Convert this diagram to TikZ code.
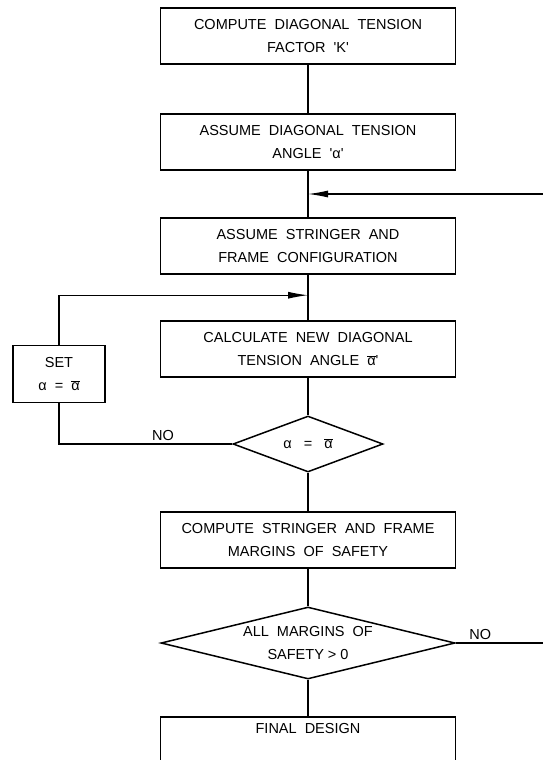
\documentclass[tikz,border=0pt]{standalone}
\usepackage{fontspec}
\setmainfont{Liberation Sans}[WordSpace=2]
\usepackage{tikz}
\usetikzlibrary{shapes.geometric,arrows.meta,positioning,calc}
\newcommand{\alphabar}{$\overline{\mbox{α}}$}
\newcommand{\tick}{\textquotesingle}

\begin{document}
\begin{tikzpicture}[x=1pt, y=-1pt,
    pbox/.style={rectangle, draw, line width=1.5pt,
                 minimum width=295pt, minimum height=56pt,
                 align=center, font=\fontsize{14.5}{23}\selectfont},
    test/.style={diamond, draw, line width=1.5pt, inner sep=0pt,
                 align=center, font=\fontsize{14.5}{23}\selectfont},
    link/.style={line width=1.1pt},
    arr/.style={link, -{Latex[length=20pt,width=7pt]}},
    lbl/.style={font=\fontsize{14.5}{17}\selectfont, inner sep=3pt}
  ]
    \useasboundingbox (0,0) rectangle (543,760);
    \node[pbox] (b1) at (308,36) {COMPUTE DIAGONAL TENSION\\FACTOR \tick K\tick};
    \node[pbox, below=48.5pt of b1] (b2) {ASSUME DIAGONAL TENSION\\ANGLE \tick α\tick};
    \node[pbox, below=46.5pt of b2] (b3) {ASSUME STRINGER AND\\FRAME CONFIGURATION};
    \node[pbox, below=45.5pt of b3] (b4) {CALCULATE NEW DIAGONAL\\TENSION ANGLE \alphabar\tick};
    \node[test, aspect=2.7, minimum width=150pt, minimum height=56pt,
          below=37.5pt of b4] (d1) {α\hspace{4pt} = \hspace{4pt}\alphabar};
    \node[pbox, below=38.5pt of d1] (b5) {COMPUTE STRINGER AND FRAME\\MARGINS OF SAFETY};
    \node[test, aspect=4, minimum width=294pt, minimum height=72pt,
          below=37.5pt of b5] (d2) {ALL MARGINS OF\\SAFETY\hspace{4pt}>\hspace{4pt}0};
    \node[pbox, minimum height=0pt, inner sep=6pt, text depth=24pt,
          below=36.5pt of d2] (b6) {FINAL DESIGN};
    \node[pbox, minimum width=92pt, minimum height=57pt] (set) at (59,374) {SET\\α = \alphabar};
    % junctions on the main line
    \coordinate (jr) at ($(b2.south)!0.5!(b3.north)$);
    \coordinate (jl) at ($(b3.south)!0.45!(b4.north)$);
    \coordinate (redge) at (543,0);
    \draw[link] (b1) -- (b2);
    \draw[link] (b2) -- (b3);
    \draw[link] (b3) -- (b4);
    \draw[link] (b4) -- (d1);
    \draw[link] (d1) -- (b5);
    \draw[link] (b5) -- (d2);
    \draw[link] (d2) -- (b6);
    % loops back
    \draw[arr] (redge |- jr) -- (jr);
    \draw[link] (d2.east) -- node[lbl, pos=0.28, above] {NO} (redge |- d2.east);
    \draw[link] (d1.west) -| node[lbl, pos=0.2, above] {NO} (set.south);
    \draw[arr] (set.north) |- (jl);
\end{tikzpicture}
\end{document}
